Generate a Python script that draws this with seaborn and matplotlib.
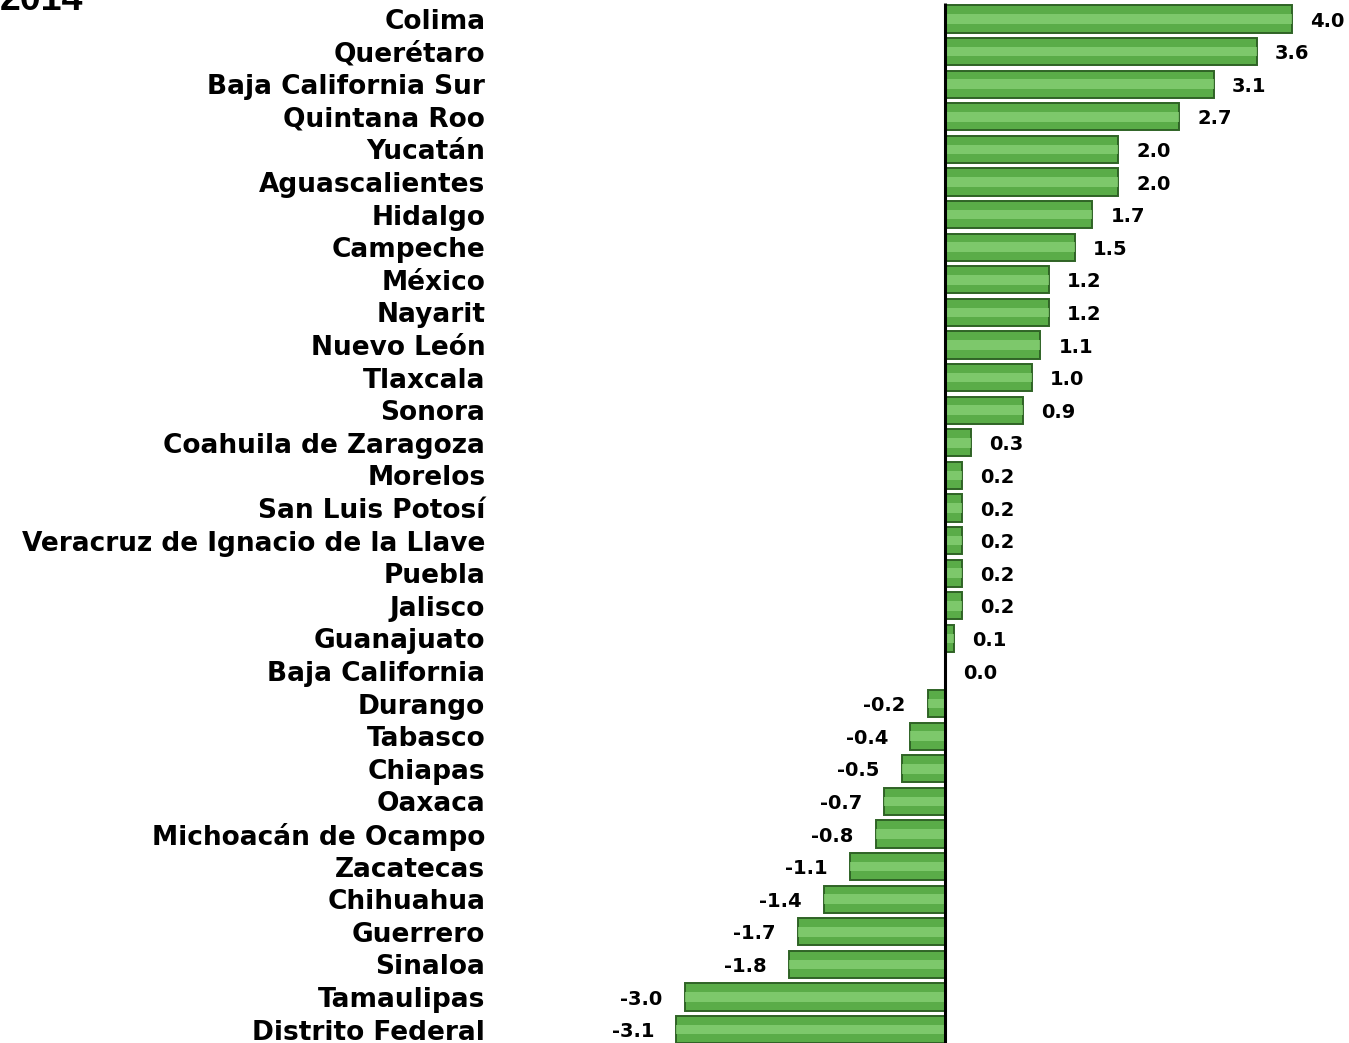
import matplotlib
matplotlib.use("Agg")
import matplotlib.pyplot as plt
import seaborn as sns
import pandas as pd

# Tasa de crecimiento por entidad federativa, 2014
states = [
    "Colima", "Querétaro", "Baja California Sur", "Quintana Roo", "Yucatán",
    "Aguascalientes", "Hidalgo", "Campeche", "México", "Nayarit",
    "Nuevo León", "Tlaxcala", "Sonora", "Coahuila de Zaragoza", "Morelos",
    "San Luis Potosí", "Veracruz de Ignacio de la Llave", "Puebla", "Jalisco",
    "Guanajuato", "Baja California", "Durango", "Tabasco", "Chiapas", "Oaxaca",
    "Michoacán de Ocampo", "Zacatecas", "Chihuahua", "Guerrero", "Sinaloa",
    "Tamaulipas", "Distrito Federal",
]
values = [
    4.0, 3.6, 3.1, 2.7, 2.0,
    2.0, 1.7, 1.5, 1.2, 1.2,
    1.1, 1.0, 0.9, 0.3, 0.2,
    0.2, 0.2, 0.2, 0.2,
    0.1, 0.0, -0.2, -0.4, -0.5, -0.7,
    -0.8, -1.1, -1.4, -1.7, -1.8,
    -3.0, -3.1,
]
year_label = "2014"

df = pd.DataFrame({"estado": states, "valor": values})

sns.set_theme(style="white")
plt.rcParams["font.family"] = ["DejaVu Sans"]
plt.rcParams["font.weight"] = "bold"
plt.rcParams["text.color"] = "black"

W, H = 1349, 1043
fig = plt.figure(figsize=(W / 100, H / 100), dpi=100)
ax = fig.add_axes([495 / W, 0, (W - 495) / W, 1])

# main bar
sns.barplot(data=df, x="valor", y="estado", orient="h", ax=ax,
            color="#5aac48", edgecolor="#2f6326", linewidth=1.4,
            width=0.83, saturation=1)
# lighter bevel highlight
sns.barplot(data=df, x="valor", y="estado", orient="h", ax=ax,
            color="#8ad277", edgecolor="none", linewidth=0,
            width=0.3, saturation=1, alpha=0.75)

px_per_unit = 86.7
row_px = 32.6
ax.set_xlim((495 - 945) / px_per_unit, (W - 945) / px_per_unit)
ax.set_ylim((H - 19) / row_px, -19 / row_px)
ax.vlines(0, -0.5, 31.7, color="black", linewidth=2.2, zorder=5)

for i, v in enumerate(values):
    if v >= 0:
        ax.annotate(f"{v:.1f}", (v, i), xytext=(13, -1.5), textcoords="offset points",
                    ha="left", va="center", fontsize=14, fontweight="bold", color="black")
    else:
        ax.annotate(f"{v:.1f}", (v, i), xytext=(-16, -1.5), textcoords="offset points",
                    ha="right", va="center", fontsize=14, fontweight="bold", color="black")

ax.set_xlabel("")
ax.set_ylabel("")
ax.set_xticks([])
ax.tick_params(axis="y", length=0, pad=7)
for lbl in ax.get_yticklabels():
    lbl.set_fontsize(19)
    lbl.set_fontweight("bold")
    lbl.set_color("black")
sns.despine(ax=ax, left=True, bottom=True)

fig.text(0, 1 - 10 / H, year_label, fontsize=27, fontweight="bold", va="baseline",
         ha="left", color="black", family="Liberation Sans")

fig.savefig("out.png", dpi=100)
